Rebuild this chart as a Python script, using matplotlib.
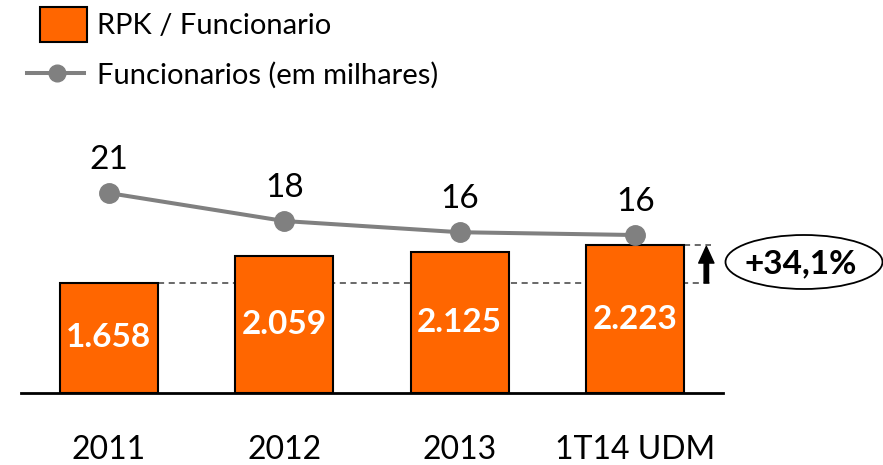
import matplotlib.pyplot as plt
from matplotlib.patches import Rectangle, Ellipse
from matplotlib.lines import Line2D

plt.rcParams['font.family'] = ['Lato', 'DejaVu Sans']

# data
periodos = ['2011', '2012', '2013', '1T14 UDM']
rpk_func = [1658, 2059, 2125, 2223]
rpk_labels = ['1.658', '2.059', '2.125', '2.223']
funcionarios = [20.6, 17.6, 16.4, 16.1]
variacao = '+34,1%'

laranja = '#FF6600'
cinza = '#808080'

W, H = 883, 465
fig = plt.figure(figsize=(W / 100, H / 100), dpi=100)

# axes placed in pixel terms (baseline at y=393, from x=21 to x=723)
ax = fig.add_axes([21 / W, (H - 393) / H, 702 / W, 293 / H])
x = list(range(len(periodos)))
ax.bar(x, rpk_func, width=0.56, color=laranja, edgecolor='black', linewidth=1.5, zorder=3)
ax.set_xlim(-0.5, 3.5)
ax.set_ylim(0, 4413)
for s in ['top', 'right', 'left']:
    ax.spines[s].set_visible(False)
ax.spines['bottom'].set_linewidth(2)
ax.set_yticks([])
ax.set_xticks(x)
ax.set_xticklabels(periodos, fontsize=23)
ax.tick_params(axis='x', length=0, pad=30)

for xi, v, lab in zip(x, rpk_func, rpk_labels):
    ax.text(xi, v / 2, lab, ha='center', va='center', color='white',
            fontsize=24, fontweight='bold', zorder=4)

# dashed reference lines and arrow
ax.hlines(rpk_func[0], 0.28, 3.43, colors='#404040', linestyles=(0, (4, 3)), linewidth=1.1, zorder=2)
ax.hlines(rpk_func[-1], 3.28, 3.43, colors='#404040', linestyles=(0, (4, 3)), linewidth=1.1, zorder=2)
ax.annotate('', xy=(3.405, rpk_func[-1] - 15), xytext=(3.405, rpk_func[0]),
            arrowprops=dict(facecolor='black', edgecolor='black', width=3.2,
                            headwidth=11, headlength=12, shrink=0),
            annotation_clip=False)

# line on twin axis
ax2 = ax.twinx()
ax2.plot(x, funcionarios, color=cinza, linewidth=2.9, marker='o', markersize=14,
         markerfacecolor=cinza, markeredgecolor=cinza, zorder=5)
ax2.set_ylim(-0.83, 30.57)
ax2.axis('off')
ax2.set_xlim(-0.5, 3.5)
for xi, v in zip(x, funcionarios):
    ax2.annotate(f'{v:.0f}', xy=(xi, v), xytext=(0, 33), textcoords='offset pixels',
                 ha='center', va='center', fontsize=24)

# ellipse with growth
fig.patches.append(Ellipse((804 / W, 1 - 262 / H), 157 / W, 54 / H, transform=fig.transFigure,
                           facecolor='white', edgecolor='black', linewidth=1.3))
fig.text(801 / W, 1 - 264 / H, variacao, ha='center', va='center', fontsize=24, fontweight='bold')

# legend drawn by hand
fig.patches.append(Rectangle((40 / W, 1 - 42 / H), 47 / W, 35 / H, transform=fig.transFigure,
                             facecolor=laranja, edgecolor='black', linewidth=1.5))
fig.text(97 / W, 1 - 26 / H, 'RPK / Funcionario', ha='left', va='center', fontsize=21)
fig.lines.append(Line2D([27 / W, 84 / W], [1 - 73 / H, 1 - 73 / H], transform=fig.transFigure,
                        color=cinza, linewidth=2.9))
fig.lines.append(Line2D([57 / W], [1 - 73 / H], transform=fig.transFigure, marker='o',
                        markersize=12, color=cinza))
fig.text(97 / W, 1 - 75 / H, 'Funcionarios (em milhares)', ha='left', va='center', fontsize=21)

fig.savefig('out.png', dpi=100)
